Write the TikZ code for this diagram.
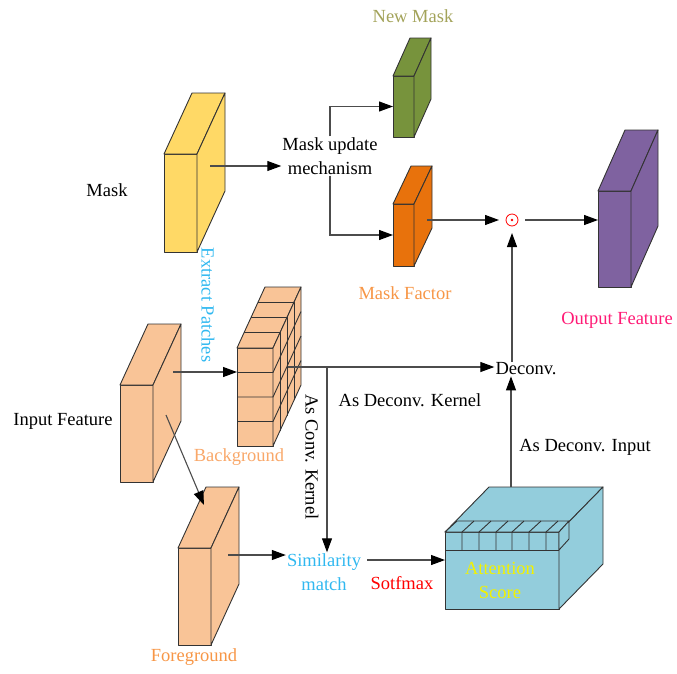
\documentclass[tikz,border=0pt]{standalone}
\usepackage{fontspec}
\setmainfont{Liberation Serif}
\usetikzlibrary{arrows.meta,calc}

\definecolor{maskyellow}{HTML}{FFD966}
\definecolor{newgreen}{HTML}{77933C}
\definecolor{factororange}{HTML}{E8720C}
\definecolor{outpurple}{HTML}{7F62A0}
\definecolor{peach}{HTML}{F9C497}
\definecolor{aqua}{HTML}{93CDDC}
\definecolor{txtolive}{HTML}{A3A35A}
\definecolor{txtorange}{HTML}{F79646}
\definecolor{txtbg}{HTML}{F9A86A}
\definecolor{txtpink}{HTML}{FF1A75}
\definecolor{txtblue}{HTML}{30B8F0}
\definecolor{txtyellow}{HTML}{F2F200}

% cuboid: #1 name, #2,#3 centre of front face, #4 width, #5 height, #6,#7 depth offset, #8 fill
\newcommand\cuboid[8]{%
  \node[facet, fill=#8, minimum width=#4pt, minimum height=#5pt] (#1) at (#2,#3) {};
  \draw[facet, fill=#8] (#1.north west) -- ++(#6,#7) -- ++(#4,0) -- (#1.north east) -- cycle;
  \draw[facet, fill=#8] (#1.north east) -- ++(#6,#7) -- ++(0,#5) -- (#1.south east) -- cycle;
}

\begin{document}
\begin{tikzpicture}[x=1pt, y=-1pt,
  font=\fontsize{18.5}{24}\selectfont,
  facet/.style={draw=black!80, line width=0.9pt, line join=round, inner sep=0pt, outer sep=0pt},
  arr/.style={draw=black!70, line width=1.1pt, -{Triangle[length=14pt,width=10pt,color=black]}},
  lbl/.style={inner sep=1pt, align=center}]

\useasboundingbox (0,0) rectangle (677,673);

% ---------- blocks ----------
\cuboid{mask}{180.5}{203}{33}{98}{28}{-61}{maskyellow}
\cuboid{newmask}{403.5}{106.5}{21}{61}{17}{-38}{newgreen}
\cuboid{factor}{403.5}{235}{21}{62}{18}{-38}{factororange}
\cuboid{output}{614.5}{239}{33}{96}{27}{-61}{outpurple}
\cuboid{input}{136.5}{433.5}{33}{97}{28}{-61}{peach}
\cuboid{fg}{194.5}{596.5}{33}{97}{28}{-61}{peach}
\cuboid{bg}{255}{397}{36}{98}{28}{-61}{peach}

% patch grid on the background block
\foreach \k in {1,2,3} {
  \draw[facet] ($(bg.north west)!\k/4!(bg.south west)$) -- ($(bg.north east)!\k/4!(bg.south east)$)
               -- ++(28,-61);
  \draw[facet] ($(bg.north west)+\k/4*(28,-61)$) -- ($(bg.north east)+\k/4*(28,-61)$)
               -- ++(0,98);
}

% attention block with its row of cells on top
\cuboid{att}{502}{570.5}{114}{77}{44}{-45}{aqua}
\draw[facet, fill=aqua] (445,532) -- (457,521) -- (569,521) -- (559,532) -- cycle;
\draw[facet, fill=aqua] (559,532) -- (569,521) -- (569,539) -- (559,550) -- cycle;
\draw[facet] (445,550) -- (559,550);
\foreach \cx in {462,479,496,512,529,546} {
  \draw[facet] (\cx,550) -- (\cx,532) -- ++(12,-11);
}

% ---------- text nodes ----------
\node[lbl] (mech) at (330,156) {Mask update\\mechanism};
\node[draw=red, line width=0.8pt, circle, minimum size=12pt, inner sep=0pt, outer sep=7pt] (dot) at (512,220) {};
\fill[red] (dot.center) circle (1.4pt);
\node[lbl] (deconv) at (526,369) {Deconv.};
\node[lbl, text=txtblue] (sim) at (324,572) {Similarity\\match};

\node[lbl] (masklbl) at (107,190) {Mask};
\node[lbl] (inlbl) at (63,421) {Input Feature};
\node[lbl, text=txtolive] (newlbl) at (413,16) {New Mask};
\node[lbl, text=txtorange] (faclbl) at (405,293) {Mask Factor};
\node[lbl, text=txtpink] (outlbl) at (617,320) {Output Feature};
\node[lbl, text=txtbg] (bglbl) at (239,457) {Background};
\node[lbl, text=txtorange] (fglbl) at (194,657) {Foreground};
\node[lbl, text=txtblue, rotate=-90] (extlbl) at (208,305) {Extract Patches};
\node[lbl, rotate=-90] (convlbl) at (312,457) {As Conv. Kernel};
\node[lbl] (dklbl) at (410,400) {As Deconv. Kernel};
\node[lbl] (dilbl) at (585,447) {As Deconv. Input};
\node[lbl, text=red] (smlbl) at (402,583) {Sotfmax};
\node[lbl, text=txtyellow] (attlbl) at (500,580) {Attention\\Score};

% ---------- connector end points ----------
\coordinate (maskOut) at (210,166);
\coordinate (facOut) at (427,220);
\coordinate (inOut) at (173,372);
\coordinate (inDown) at (166,415);
\coordinate (fgIn) at (204,505);
\coordinate (bgOut) at (288,367);
\coordinate (branch) at (327,367);
\coordinate (fgOut) at (228,555);
\coordinate (simOut) at (367,560);
\coordinate (attTop) at (511,487);

% ---------- connectors ----------
\draw[arr] (maskOut) -- (maskOut -| mech.west);
\draw[arr] (mech.north) |- (newmask.west);
\draw[arr] (mech.south) |- (factor.west);
\draw[arr] (facOut) -- (dot);
\draw[arr] (dot) -- (output.west |- dot);
\draw[arr] (deconv.north -| dot) -- (dot);
\draw[arr] (inOut) -- (inOut -| bg.west);
\draw[arr] (inDown) -- (fgIn);
\draw[arr] (bgOut) -- (bgOut -| deconv.west);
\draw[arr] (branch) -- (branch |- sim.north);
\draw[arr] (fgOut) -- (fgOut -| sim.west);
\draw[arr] (simOut) -- (simOut -| att.west);
\draw[arr] (attTop) -- (attTop |- deconv.south);

\end{tikzpicture}
\end{document}
